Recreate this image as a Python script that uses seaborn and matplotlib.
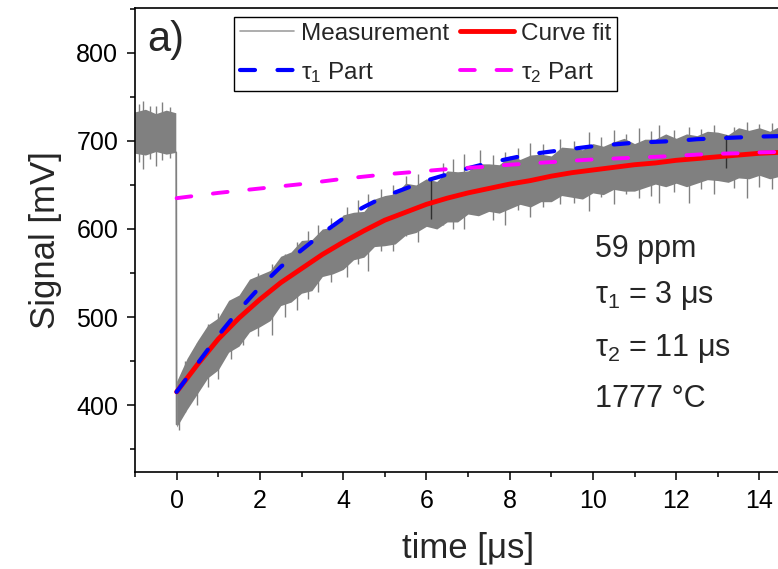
import numpy as np
import pandas as pd
import matplotlib
matplotlib.use("Agg")
import matplotlib.pyplot as plt
import seaborn as sns
from matplotlib.ticker import MultipleLocator
from matplotlib.lines import Line2D

# ---------------- data ----------------
# pre-trigger measurement band (t < 0)
pre_t = [-1.0, -0.75, -0.5, -0.25, -0.02]
pre_hi = [733, 736, 731, 735, 732]
pre_lo = [686, 684, 688, 685, 687]

# post-trigger measurement band, 0.25 us steps from 0 to 15
env_t = list(np.arange(0, 15.001, 0.25))
env_hi = [427, 453, 473, 491, 499, 519, 525, 543, 548, 553, 569, 574, 587, 588, 600, 602,
          616, 619, 620, 634, 638, 640, 652, 650, 657, 654, 666, 665, 666, 674, 674, 673,
          683, 679, 684, 685, 683, 693, 692, 690, 697, 694, 699, 703, 697, 702, 702, 708,
          703, 708, 706, 711, 710, 707, 715, 712, 715, 711, 717, 716, 715]
env_lo = [375, 395, 413, 431, 440, 460, 467, 483, 489, 496, 513, 517, 527, 530, 546, 549,
          554, 565, 568, 580, 581, 583, 593, 596, 603, 600, 608, 608, 617, 615, 620, 618,
          623, 628, 625, 631, 631, 638, 636, 634, 641, 639, 645, 643, 643, 647, 651, 648,
          652, 648, 652, 656, 655, 653, 658, 657, 661, 657, 660, 658, 663]

# the trigger drop at t = 0
drop_t = [-0.01, 0.0]
drop_v = [687, 378]

# isolated noise spikes (t, low, high)
spike_t = [-0.9, -0.8, -0.65, -0.5, -0.35, -0.15, 0.05, 0.2, 0.5, 0.75, 1.0, 1.3, 1.6, 1.95,
           2.3, 2.6, 2.9, 3.15, 3.4, 3.7, 4.1, 4.35, 4.6, 4.9, 5.2, 5.5, 5.8, 6.4, 6.65, 6.9,
           7.3, 7.6, 7.9, 8.2, 8.5, 8.8, 9.2, 9.55, 9.9, 10.2, 10.5, 10.8, 11.1, 11.4, 11.6,
           11.95, 12.3, 12.6, 12.9, 13.4, 13.7, 14.0, 14.3, 14.6]
spike_lo = [676, 668, 680, 672, 678, 681, 372, 392, 400, 420, 430, 452, 468, 478,
            480, 500, 508, 520, 528, 540, 545, 560, 552, 575, 575, 592, 585, 605, 600, 600,
            618, 610, 605, 622, 614, 625, 628, 630, 620, 636, 628, 640, 635, 638, 630,
            642, 630, 645, 640, 646, 635, 648, 645, 650]
spike_hi = [742, 745, 740, 740, 744, 739, 430, 450, 470, 492, 505, 518, 530, 550,
            560, 572, 585, 598, 605, 612, 625, 633, 640, 645, 650, 660, 662, 675, 680, 685,
            690, 684, 688, 692, 698, 696, 702, 700, 710, 705, 712, 708, 715, 711, 718,
            713, 716, 714, 718, 716, 722, 719, 720, 721]
# dark glitch lines
glitch_t = [6.12, 13.2]
glitch_lo = [611, 669]
glitch_hi = [658, 707]

# smooth curves, 0.5 us steps
curve_t = list(np.arange(0, 15.001, 0.5))
fit_v = [415, 446, 475, 499, 520, 539, 555, 571, 585, 598, 610, 619, 628, 635, 641, 646,
         651, 655, 660, 664, 667, 670, 673, 675, 678, 680, 682, 684, 686, 687, 689]
tau1_v = [415, 447, 479, 508, 534, 557, 576, 595, 612, 625, 637, 646, 655, 662, 669, 675,
          680, 685, 688, 691, 694, 696, 698, 699, 700, 702, 703, 704, 705, 705.5, 706]
tau2_v = [635, 638, 641, 643.5, 646, 648.5, 651, 654, 657, 659.5, 662, 664, 666, 668, 669.5,
          671, 673, 674.5, 676, 677.5, 679, 680, 681, 682, 683, 684.5, 685.5, 686, 687, 687.5, 688]

labels = ["Measurement", "Curve fit", "τ$_1$ Part", "τ$_2$ Part"]
annot = ["59 ppm", "τ$_1$ = 3 μs", "τ$_2$ = 11 μs", "1777 °C"]
annot_y = [568, 516, 456, 398]

# ---------------- style ----------------
sns.set_theme(style="ticks")
plt.rcParams["font.family"] = ["Liberation Sans", "DejaVu Sans"]
plt.rcParams["mathtext.fontset"] = "custom"
plt.rcParams["mathtext.rm"] = "Liberation Sans"
plt.rcParams["mathtext.it"] = "Liberation Sans:italic"
plt.rcParams["mathtext.default"] = "regular"

fig = plt.figure(figsize=(7.78, 5.69), dpi=100)
ax = fig.add_axes([135 / 778, 1 - 472 / 569, 666 / 778, 464 / 569])

GRAY = "#808080"
# measurement
ax.fill_between(pre_t, pre_lo, pre_hi, color=GRAY, lw=0, zorder=1)
ax.fill_between(env_t, env_lo, env_hi, color=GRAY, lw=0, zorder=1)
ax.vlines(spike_t, spike_lo, spike_hi, color=GRAY, lw=1.0, zorder=1)
ax.vlines(glitch_t, glitch_lo, glitch_hi, color="#303030", lw=1.0, zorder=1)
sns.lineplot(x=drop_t, y=drop_v, color=GRAY, lw=1.3, ax=ax, zorder=2,
             sort=False, estimator=None)

# curves
sns.lineplot(x=curve_t, y=fit_v, color="#ff0000", lw=3.5, ax=ax, zorder=3)
sns.lineplot(x=curve_t, y=tau1_v, color="#0000ff", lw=3.0, ax=ax, zorder=4,
             linestyle=(0, (3.6, 5.4)), dash_capstyle="round")
sns.lineplot(x=curve_t, y=tau2_v, color="#ff00ff", lw=2.8, ax=ax, zorder=4,
             linestyle=(0, (3.8, 5.6)), dash_capstyle="round")

ax.set_xlim(-1, 15)
ax.set_ylim(324, 851)
ax.xaxis.set_major_locator(MultipleLocator(2))
ax.xaxis.set_minor_locator(MultipleLocator(1))
ax.yaxis.set_major_locator(MultipleLocator(100))
ax.yaxis.set_minor_locator(MultipleLocator(50))
ax.tick_params(axis="both", which="major", direction="out", length=6, width=1.1,
               labelsize=18, pad=6, color="black", labelcolor="black")
ax.tick_params(axis="both", which="minor", direction="out", length=3.5, width=1.1,
               color="black")
ax.tick_params(top=False, right=False, which="both")
for s in ax.spines.values():
    s.set_linewidth(1.2)
    s.set_color("black")
    s.set_visible(True)

ax.set_xlabel("time [μs]", fontsize=25, labelpad=14)
ax.set_ylabel("Signal [mV]", fontsize=25, labelpad=10)

ax.text(-0.7, 802, "a)", fontsize=30, va="baseline", ha="left")
for txt, yy in zip(annot, annot_y):
    ax.text(10.05, yy, txt, fontsize=22, va="baseline", ha="left")

handles = [
    Line2D([], [], color="#a0a0a0", lw=1.2),
    Line2D([], [], color="#0000ff", lw=3.0, linestyle=(0, (3.6, 5.4)), dash_capstyle="round"),
    Line2D([], [], color="#ff0000", lw=3.5),
    Line2D([], [], color="#ff00ff", lw=2.8, linestyle=(0, (3.8, 5.6)), dash_capstyle="round"),
]
leg_labels = [labels[0], labels[2], labels[1], labels[3]]
leg = ax.legend(handles, leg_labels, ncol=2, loc="upper left",
                bbox_to_anchor=(0.149, 0.981), borderaxespad=0, fontsize=17.5,
                frameon=True, fancybox=False, framealpha=1, edgecolor="black",
                handlelength=2.2, handletextpad=0.3, columnspacing=0.45,
                borderpad=0.25, labelspacing=0.62)
leg.get_frame().set_linewidth(1.0)

fig.savefig("out.png", dpi=100)
